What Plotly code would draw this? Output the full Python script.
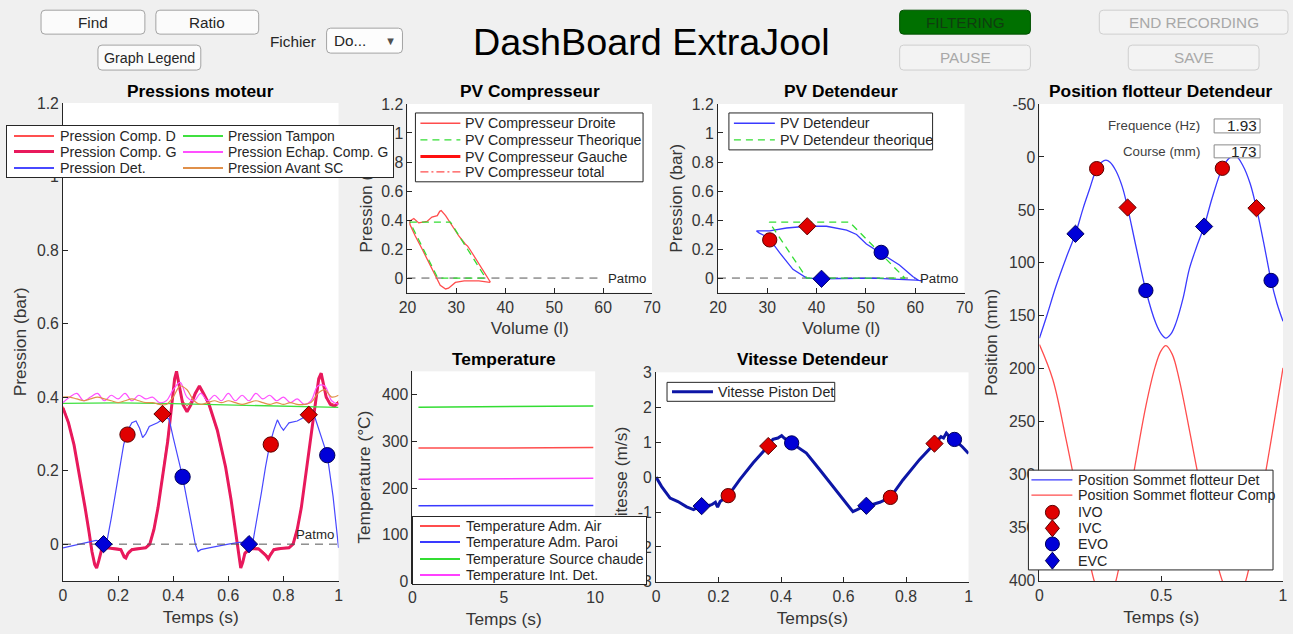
import plotly.graph_objects as go

FONT = "Liberation Sans, Arial, Helvetica, sans-serif"
# Observed: the page is shown with an 8px body margin and the captured area is
# then fitted to 1293x634.  Positions below are given in picture pixels and are
# converted to figure pixels with that mapping.
M = 8
SX, SY = 1293 / 1309, 634 / 650
W, H = 1301, 634
FS = 1.02  # font scale compensation

# ======================= DATA =======================
# --- Pressions moteur (bar) vs Temps (s)
T_COMP = [0.0, 0.02, 0.04, 0.06, 0.08, 0.095, 0.105, 0.115, 0.122, 0.13,
          0.14, 0.16, 0.19, 0.21, 0.222, 0.228, 0.236, 0.25, 0.28, 0.30,
          0.315, 0.33, 0.345, 0.36, 0.38, 0.395, 0.405, 0.412, 0.42, 0.435,
          0.45, 0.465, 0.48, 0.495, 0.51, 0.53, 0.56, 0.59, 0.61, 0.625,
          0.637, 0.645, 0.652, 0.66, 0.68, 0.71, 0.735, 0.745, 0.752, 0.765,
          0.79, 0.82, 0.835, 0.85, 0.865, 0.88, 0.90, 0.915, 0.928, 0.937,
          0.945, 0.955, 0.97, 0.985, 1.0]
P_COMP_G = [0.37, 0.33, 0.27, 0.19, 0.10, 0.03, -0.02, -0.055, -0.065, -0.045,
            -0.015, -0.01, -0.012, -0.015, -0.035, -0.038, -0.025, -0.015, -0.012, -0.01,
            0.0, 0.04, 0.10, 0.18, 0.28, 0.38, 0.45, 0.47, 0.44, 0.38,
            0.36, 0.38, 0.41, 0.43, 0.41, 0.38, 0.31, 0.21, 0.12, 0.04,
            -0.03, -0.065, -0.05, -0.025, -0.012, -0.013, -0.03, -0.04, -0.03, -0.015,
            -0.012, -0.01, 0.0, 0.04, 0.10, 0.18, 0.29, 0.38, 0.45, 0.465,
            0.44, 0.40, 0.38, 0.375, 0.385]
P_COMP_D = [0.375, 0.335, 0.275, 0.195, 0.105, 0.035, -0.015, -0.05, -0.06, -0.04,
            -0.012, -0.008, -0.01, -0.012, -0.028, -0.032, -0.02, -0.012, -0.01, -0.008,
            0.005, 0.045, 0.105, 0.185, 0.285, 0.375, 0.44, 0.455, 0.43, 0.39,
            0.375, 0.39, 0.415, 0.425, 0.405, 0.375, 0.305, 0.205, 0.115, 0.035,
            -0.025, -0.06, -0.045, -0.02, -0.01, -0.01, -0.025, -0.033, -0.025, -0.012,
            -0.01, -0.008, 0.005, 0.045, 0.105, 0.185, 0.295, 0.375, 0.44, 0.455,
            0.43, 0.395, 0.385, 0.38, 0.39]
T_DET = [0.0, 0.03, 0.06, 0.09, 0.12, 0.147, 0.16, 0.175, 0.19, 0.205,
         0.22, 0.235, 0.25, 0.265, 0.278, 0.289, 0.30, 0.313, 0.343, 0.373,
         0.385, 0.40, 0.415, 0.434, 0.45, 0.465, 0.48, 0.49, 0.50, 0.53,
         0.56, 0.60, 0.64, 0.675, 0.69, 0.705, 0.72, 0.735, 0.75, 0.765,
         0.778, 0.79, 0.80, 0.81, 0.82, 0.85, 0.892, 0.914, 0.937, 0.959,
         0.98, 1.0]
P_DET = [-0.01, -0.005, 0.0, 0.005, 0.01, 0.005, 0.01, 0.07, 0.14, 0.21,
         0.27, 0.31, 0.33, 0.335, 0.315, 0.29, 0.30, 0.32, 0.33, 0.345,
         0.34, 0.29, 0.24, 0.183, 0.12, 0.06, 0.0, -0.02, -0.015, -0.01,
         -0.005, 0.0, 0.005, 0.005, 0.01, 0.07, 0.14, 0.21, 0.27, 0.31,
         0.338, 0.32, 0.31, 0.32, 0.33, 0.335, 0.352, 0.345, 0.29, 0.242,
         0.13, -0.01]
T_TAMPON = [0.0, 0.2, 0.4, 0.6, 0.8, 1.0]
P_TAMPON = [0.383, 0.384, 0.382, 0.379, 0.376, 0.372]
T_GRID = [0.0, 0.025, 0.05, 0.075, 0.1, 0.125, 0.15, 0.175, 0.2, 0.225,
          0.25, 0.275, 0.3, 0.325, 0.35, 0.375, 0.4, 0.425, 0.45, 0.475,
          0.5, 0.525, 0.55, 0.575, 0.6, 0.625, 0.65, 0.675, 0.7, 0.725,
          0.75, 0.775, 0.8, 0.825, 0.85, 0.875, 0.9, 0.925, 0.95, 0.975, 1.0]
P_ECHAP = [0.385, 0.40, 0.41, 0.39, 0.40, 0.41, 0.39, 0.405, 0.395, 0.41,
           0.39, 0.405, 0.395, 0.40, 0.385, 0.39, 0.42, 0.44, 0.40, 0.39,
           0.41, 0.39, 0.405, 0.39, 0.41, 0.39, 0.405, 0.39, 0.41, 0.395,
           0.405, 0.39, 0.40, 0.385, 0.395, 0.38, 0.39, 0.43, 0.43, 0.39, 0.38]
P_AVANT_SC = [0.40, 0.40, 0.395, 0.39, 0.395, 0.40, 0.395, 0.39, 0.385, 0.39,
              0.395, 0.39, 0.385, 0.385, 0.38, 0.38, 0.40, 0.43, 0.42, 0.39,
              0.38, 0.385, 0.39, 0.385, 0.39, 0.385, 0.38, 0.385, 0.39, 0.385,
              0.38, 0.385, 0.38, 0.385, 0.38, 0.38, 0.385, 0.41, 0.42, 0.40, 0.405]
PATMO_T = [0.0, 1.0]
PATMO_P = [0.0, 0.0]
# events on pressure plot
IVO_T, IVO_P = [0.234, 0.754], [0.298, 0.271]
IVC_T, IVC_P = [0.361, 0.892], [0.354, 0.352]
EVO_T, EVO_P = [0.434, 0.959], [0.183, 0.242]
EVC_T, EVC_P = [0.147, 0.675], [0.0, 0.0]

# --- PV Compresseur
V_COMP_D = [20.5, 21.3, 22.3, 24.0, 25.0, 26.1, 26.6, 26.9, 27.8, 28.8,
            30.5, 31.8, 32.3, 32.9, 34.6, 36.3, 36.9, 36.8, 34.6, 31.6,
            29.8, 28.4, 27.8, 26.7, 25.7, 24.7, 23.0, 21.6, 20.5, 20.5]
PV_COMP_D = [0.393, 0.41, 0.38, 0.39, 0.42, 0.43, 0.46, 0.465, 0.43, 0.38,
             0.29, 0.235, 0.22, 0.19, 0.10, 0.005, -0.025, -0.03, -0.02, -0.02,
             -0.03, -0.07, -0.075, -0.05, 0.02, 0.087, 0.20, 0.29, 0.37, 0.393]
V_COMP_TH = [20.5, 28.8, 36.0, 26.2, 20.5]
PV_COMP_TH = [0.385, 0.385, 0.0, 0.0, 0.385]
PATMO_V = [20.0, 60.0]

# --- PV Detendeur
V_DET = [27.8, 30.5, 33.9, 38.0, 42.0, 46.1, 48.1, 50.1, 53.1, 56.8,
         59.5, 60.9, 61.5, 60.2, 55.5, 51.5, 45.0, 41.0, 38.0, 35.2,
         32.5, 30.9, 30.2, 28.4, 27.8]
PV_DET = [0.325, 0.325, 0.345, 0.357, 0.357, 0.33, 0.30, 0.235, 0.17, 0.09,
          0.01, -0.02, -0.02, -0.015, -0.008, 0.0, -0.003, -0.005, 0.0, 0.06,
          0.175, 0.245, 0.28, 0.31, 0.325]
V_DET_TH = [30.4, 46.7, 57.9, 38.0, 30.4]
PV_DET_TH = [0.385, 0.385, 0.0, 0.0, 0.385]
PV_IVO_V, PV_IVO_P = [30.5], [0.263]
PV_IVC_V, PV_IVC_P = [38.1], [0.357]
PV_EVO_V, PV_EVO_P = [53.1], [0.177]
PV_EVC_V, PV_EVC_P = [41.0], [-0.005]

# --- Temperature (°C) vs Temps (s)
T_TEMP = [0.33, 2.5, 5.0, 7.5, 9.9]
TEMP_AIR = [286, 285.5, 286, 286.5, 287]
TEMP_PAROI = [162, 162, 162.5, 163, 163]
TEMP_SOURCE = [373, 374, 375, 375.5, 376]
TEMP_INT_DET = [219, 219.5, 220, 220.5, 221]

# --- Vitesse Detendeur (m/s)
T_VIT = [0.0, 0.018, 0.045, 0.07, 0.098, 0.12, 0.13, 0.146, 0.165, 0.178,
         0.19, 0.197, 0.205, 0.231, 0.268, 0.311, 0.359, 0.374, 0.39, 0.402,
         0.41, 0.434, 0.481, 0.524, 0.566, 0.598, 0.63, 0.65, 0.673, 0.716,
         0.75, 0.79, 0.843, 0.891, 0.912, 0.92, 0.929, 0.94, 0.955, 0.98, 1.0]
VIT = [0.0, -0.27, -0.6, -0.7, -0.85, -0.93, -0.88, -0.84, -0.82, -0.79,
       -0.72, -0.86, -0.7, -0.53, -0.07, 0.41, 0.89, 1.08, 1.12, 1.19,
       1.12, 0.98, 0.69, 0.21, -0.27, -0.65, -0.99, -0.9, -0.84, -0.72,
       -0.58, -0.08, 0.5, 0.96, 1.16, 1.12, 1.26, 1.15, 1.07, 0.87, 0.68]
V_IVO_T, V_IVO = [0.231, 0.75], [-0.53, -0.58]
V_IVC_T, V_IVC = [0.359, 0.891], [0.89, 0.96]
V_EVO_T, V_EVO = [0.434, 0.955], [0.98, 1.08]
V_EVC_T, V_EVC = [0.146, 0.673], [-0.83, -0.82]

# --- Position flotteur Detendeur (mm)
T_POS_DET = [0.0, 0.03, 0.068, 0.11, 0.148, 0.18, 0.205, 0.235, 0.255, 0.273,
             0.29, 0.314, 0.34, 0.362, 0.396, 0.437, 0.478, 0.50, 0.519, 0.54,
             0.56, 0.59, 0.615, 0.645, 0.676, 0.71, 0.751, 0.78, 0.806, 0.835,
             0.865, 0.891, 0.92, 0.951, 0.975, 1.0]
POS_DET = [171, 150, 122, 95, 72.5, 48, 31, 11, 5, 3,
           5, 13, 28, 47.7, 84, 126, 157, 167, 171, 167,
           157, 133, 106, 85, 65.6, 38, 10.7, 1, -1, 8,
           25, 48.3, 80, 116.5, 138, 155]
T_POS_COMP = [0.0, 0.055, 0.109, 0.164, 0.225, 0.27, 0.314, 0.383, 0.437, 0.475,
              0.499, 0.519, 0.545, 0.574, 0.649, 0.70, 0.751, 0.80, 0.847, 0.929, 1.0]
POS_COMP = [177, 210, 266, 329, 400, 425, 400, 304, 235, 198,
            183, 178, 186, 210, 297.5, 355, 400, 425, 400, 297, 199]
P_IVO_T, P_IVO = [0.235, 0.751], [11, 10.7]
P_IVC_T, P_IVC = [0.362, 0.891], [47.7, 48.3]
P_EVO_T, P_EVO = [0.437, 0.951], [126, 116.5]
P_EVC_T, P_EVC = [0.148, 0.676], [72.5, 65.6]
FREQ_HZ = "1.93"
COURSE_MM = "173"

# ======================= STYLE =======================
C_D, C_G, C_DET = '#ff5050', '#e8195c', '#4848ff'
C_TAMP, C_ECH, C_ASC = '#40e040', '#ff50ff', '#e0904a'
C_RED_L, C_BLUE_L, C_GREEN_L = '#ff4d4d', '#3a3aff', '#33dd33'
C_VIT = '#0d16a6'
RED_M, RED_E = '#e00000', '#5a0000'
BLUE_M, BLUE_E = '#0000d8', '#00005a'
AXC, TXC = '#262626', '#363636'
DASH_TH = '7px,5px'
DASH_ATM = '8px,6px'


def ux(x):
    return x / SX - M


def uy(y):
    return y / SY - M


def fx(x):
    return ux(x) / W


def fy(y):
    return 1 - uy(y) / H


def fs(size):
    return round(size * FS, 2)


shapes, annotations = [], []
fig = go.Figure()


def add_line(x, y, k, color, width=1.2, dash='solid', shape='linear'):
    fig.add_trace(go.Scatter(x=x, y=y, mode='lines', xaxis='x' + k, yaxis='y' + k,
                             line=dict(color=color, width=width, dash=dash, shape=shape),
                             hoverinfo='skip', showlegend=False))


def add_markers(x, y, k, symbol, fill, edge, size):
    fig.add_trace(go.Scatter(x=x, y=y, mode='markers', xaxis='x' + k, yaxis='y' + k,
                             marker=dict(symbol=symbol, color=fill, size=fs(size),
                                         line=dict(color=edge, width=1)),
                             hoverinfo='skip', showlegend=False, cliponaxis=False))


def events(k, ivo, ivc, evo, evc, cs=15, ds=13):
    add_markers(ivo[0], ivo[1], k, 'circle', RED_M, RED_E, cs)
    add_markers(ivc[0], ivc[1], k, 'diamond', RED_M, RED_E, ds)
    add_markers(evo[0], evo[1], k, 'circle', BLUE_M, BLUE_E, cs)
    add_markers(evc[0], evc[1], k, 'diamond', BLUE_M, BLUE_E, ds)


# ---- Panel 1: Pressions moteur
add_line(T_COMP, P_COMP_D, '', C_D, 1)
add_line(T_COMP, P_COMP_G, '', C_G, 3)
add_line(T_DET, P_DET, '', C_DET, 1.2)
add_line(T_TAMPON, P_TAMPON, '', C_TAMP, 1.3)
add_line(T_GRID, P_ECHAP, '', C_ECH, 1.2, shape='spline')
add_line(T_GRID, P_AVANT_SC, '', C_ASC, 1.2, shape='spline')
add_line(PATMO_T, PATMO_P, '', '#555555', 1, dash=DASH_ATM)
events('', (IVO_T, IVO_P), (IVC_T, IVC_P), (EVO_T, EVO_P), (EVC_T, EVC_P))

# ---- Panel 2: PV Compresseur
add_line(PATMO_V, PATMO_P, '2', '#555555', 1, dash=DASH_ATM)
add_line(V_COMP_D, PV_COMP_D, '2', C_RED_L, 1.3)
add_line(V_COMP_TH, PV_COMP_TH, '2', C_GREEN_L, 1.3, dash=DASH_TH)

# ---- Panel 3: PV Detendeur
add_line(PATMO_V, PATMO_P, '3', '#555555', 1, dash=DASH_ATM)
add_line(V_DET, PV_DET, '3', C_BLUE_L, 1.3)
add_line(V_DET_TH, PV_DET_TH, '3', C_GREEN_L, 1.3, dash=DASH_TH)
events('3', (PV_IVO_V, PV_IVO_P), (PV_IVC_V, PV_IVC_P), (PV_EVO_V, PV_EVO_P),
       (PV_EVC_V, PV_EVC_P), 14, 13)

# ---- Panel 4: Temperature
add_line(T_TEMP, TEMP_AIR, '4', C_RED_L, 1.5)
add_line(T_TEMP, TEMP_PAROI, '4', C_BLUE_L, 1.5)
add_line(T_TEMP, TEMP_SOURCE, '4', C_GREEN_L, 1.5)
add_line(T_TEMP, TEMP_INT_DET, '4', '#ff40ff', 1.5)

# ---- Panel 5: Vitesse
add_line(T_VIT, VIT, '5', C_VIT, 3)
events('5', (V_IVO_T, V_IVO), (V_IVC_T, V_IVC), (V_EVO_T, V_EVO), (V_EVC_T, V_EVC), 14, 13)

# ---- Panel 6: Position
add_line(T_POS_COMP, POS_COMP, '6', C_RED_L, 1.3, shape='spline')
add_line(T_POS_DET, POS_DET, '6', C_BLUE_L, 1.3, shape='spline')
events('6', (P_IVO_T, P_IVO), (P_IVC_T, P_IVC), (P_EVO_T, P_EVO), (P_EVC_T, P_EVC), 14, 13)

# ======================= AXES =======================
COMMON = dict(showline=True, linecolor=AXC, linewidth=1, ticks='inside', ticklen=5,
              tickcolor=AXC, tickwidth=1, showgrid=False, zeroline=False, fixedrange=True,
              tickfont=dict(family=FONT, size=fs(15.5), color=TXC), tickmode='array')


def xax(x0, x1, anchor, rng, tv, tt, title, standoff=7):
    return dict(domain=[fx(x0), fx(x1)], anchor=anchor, range=rng, tickvals=tv, ticktext=tt,
                title=dict(text=title, font=dict(family=FONT, size=fs(17), color=TXC),
                           standoff=standoff), **COMMON)


def yax(y0, y1, anchor, rng, tv, tt, title, standoff=4):
    return dict(domain=[fy(y1), fy(y0)], anchor=anchor, range=rng, tickvals=tv, ticktext=tt,
                title=dict(text=title, font=dict(family=FONT, size=fs(17), color=TXC),
                           standoff=standoff), **COMMON)


T01 = [0, 0.2, 0.4, 0.6, 0.8, 1]
T01_TXT = ['0', '0.2', '0.4', '0.6', '0.8', '1']
P_TV = [0, 0.2, 0.4, 0.6, 0.8, 1, 1.2]
P_TT = ['0', '0.2', '0.4', '0.6', '0.8', '1', '1.2']
V_TV = [20, 30, 40, 50, 60, 70]
V_TT = [str(v) for v in V_TV]

layout_axes = dict(
    xaxis=xax(62, 338, 'y', [0, 1], T01, T01_TXT, 'Temps (s)'),
    yaxis=yax(103, 582, 'x', [-0.1, 1.2], P_TV, P_TT, 'Pression (bar)', 5),
    xaxis2=xax(407, 652, 'y2', [20, 70], V_TV, V_TT, 'Volume (l)'),
    yaxis2=yax(104, 293, 'x2', [-0.1, 1.2], P_TV, P_TT, 'Pression (bar)', 4),
    xaxis3=xax(718, 965, 'y3', [20, 70], V_TV, V_TT, 'Volume (l)'),
    yaxis3=yax(104, 293, 'x3', [-0.1, 1.2], P_TV, P_TT, 'Pression (bar)', 4),
    xaxis4=xax(412, 595, 'y4', [0, 10], [0, 5, 10], ['0', '5', '10'], 'Temps (s)'),
    yaxis4=yax(372, 584, 'x4', [-3, 450], [0, 100, 200, 300, 400],
               ['0', '100', '200', '300', '400'], 'Temperature (°C)', 6),
    xaxis5=xax(656, 969, 'y5', [0, 1], T01, T01_TXT, 'Temps(s)'),
    yaxis5=yax(373, 583, 'x5', [-3, 3], [-3, -2, -1, 0, 1, 2, 3],
               ['-3', '-2', '-1', '0', '1', '2', '3'], 'Vitesse (m/s)', 5),
    xaxis6=xax(1040, 1284, 'y6', [0, 1], [0, 0.5, 1], ['0', '0.5', '1'], 'Temps (s)'),
    yaxis6=yax(104, 582, 'x6', [400, -50], [-50, 0, 50, 100, 150, 200, 250, 300, 350, 400],
               ['-50', '0', '50', '100', '150', '200', '250', '300', '350', '400'],
               'Position (mm)', 6),
)

# ======================= DECORATION HELPERS =======================


def label(x, y, s, size=14, color=AXC, xanchor='center', yanchor='middle'):
    annotations.append(dict(xref='paper', yref='paper', x=fx(x), y=fy(y), text=s,
                            showarrow=False, xanchor=xanchor, yanchor=yanchor,
                            font=dict(family=FONT, size=fs(size), color=color)))


def rrect(x0, y0, x1, y1, fill, line, r=4, lw=1):
    p = (f"M{fx(x0 + r)},{fy(y0)} L{fx(x1 - r)},{fy(y0)} Q{fx(x1)},{fy(y0)} {fx(x1)},{fy(y0 + r)} "
         f"L{fx(x1)},{fy(y1 - r)} Q{fx(x1)},{fy(y1)} {fx(x1 - r)},{fy(y1)} "
         f"L{fx(x0 + r)},{fy(y1)} Q{fx(x0)},{fy(y1)} {fx(x0)},{fy(y1 - r)} "
         f"L{fx(x0)},{fy(y0 + r)} Q{fx(x0)},{fy(y0)} {fx(x0 + r)},{fy(y0)} Z")
    shapes.append(dict(type='path', xref='paper', yref='paper', path=p, fillcolor=fill,
                       line=dict(color=line, width=lw), layer='above'))


def srect(x0, y0, x1, y1, fill='white', line=AXC):
    shapes.append(dict(type='rect', xref='paper', yref='paper', x0=fx(x0), x1=fx(x1),
                       y0=fy(y1), y1=fy(y0), fillcolor=fill, line=dict(color=line, width=1),
                       layer='above'))


def sline(x0, x1, y, color, width, dash='solid'):
    shapes.append(dict(type='line', xref='paper', yref='paper', x0=fx(x0), x1=fx(x1),
                       y0=fy(y), y1=fy(y), line=dict(color=color, width=width, dash=dash),
                       layer='above'))


def scircle(cx, cy, d, fill, edge):
    shapes.append(dict(type='circle', xref='paper', yref='paper', x0=fx(cx - d / 2),
                       x1=fx(cx + d / 2), y0=fy(cy + d / 2), y1=fy(cy - d / 2),
                       fillcolor=fill, line=dict(color=edge, width=1), layer='above'))


def sdiamond(cx, cy, w, h, fill, edge):
    p = (f"M{fx(cx - w / 2)},{fy(cy)} L{fx(cx)},{fy(cy - h / 2)} "
         f"L{fx(cx + w / 2)},{fy(cy)} L{fx(cx)},{fy(cy + h / 2)} Z")
    shapes.append(dict(type='path', xref='paper', yref='paper', path=p, fillcolor=fill,
                       line=dict(color=edge, width=1), layer='above'))


def abox(x0, y0, x1, y1):
    annotations.append(dict(xref='paper', yref='paper', x=fx((x0 + x1) / 2), y=fy((y0 + y1) / 2),
                            text=' ', showarrow=False, xanchor='center', yanchor='middle',
                            width=(x1 - x0) / SX - 2, height=(y1 - y0) / SY - 2, bgcolor='white',
                            bordercolor=AXC, borderwidth=1, borderpad=0,
                            font=dict(size=2, color='white')))


def abar(x0, x1, y, color, lw):
    annotations.append(dict(xref='paper', yref='paper', x=fx((x0 + x1) / 2), y=fy(y),
                            text=' ', showarrow=False, xanchor='center', yanchor='middle',
                            width=(x1 - x0) / SX, height=max(lw, 1), bgcolor=color, borderwidth=0,
                            borderpad=0, font=dict(size=1, color=color)))


# ======================= TOP BAR =======================
BTN_FILL, BTN_LINE = '#fbfbfb', '#a3a3a3'
DIS_FILL, DIS_LINE, DIS_TXT = '#f3f3f3', '#cfcfcf', '#a8a8a8'
rrect(40, 10, 144, 34, BTN_FILL, BTN_LINE)
label(92, 22.5, 'Find', 15)
rrect(155, 10, 258, 34, BTN_FILL, BTN_LINE)
label(206.5, 22.5, 'Ratio', 15)
rrect(97, 45, 200, 70, BTN_FILL, BTN_LINE)
label(148.5, 57.5, 'Graph Legend', 14)
label(292.5, 41, 'Fichier', 15)
rrect(326, 28, 402, 53, '#fdfdfd', BTN_LINE)
label(331, 40.5, 'Do...', 15, xanchor='left')
label(390, 40.5, '▼', 11, color='#505050')
label(651, 42, 'DashBoard ExtraJool', 37, color='#000000')
rrect(900, 10, 1031, 34, '#007000', '#005000')
label(965.5, 22.5, 'FILTERING', 15, color='#0f3d0f')
rrect(900, 45, 1031, 70, DIS_FILL, DIS_LINE)
label(965.5, 57.5, 'PAUSE', 15, color=DIS_TXT)
rrect(1100, 10, 1289, 34, DIS_FILL, DIS_LINE)
label(1194.5, 22.5, 'END RECORDING', 15, color=DIS_TXT)
rrect(1129, 45, 1260, 70, DIS_FILL, DIS_LINE)
label(1194.5, 57.5, 'SAVE', 15, color=DIS_TXT)

# ======================= SUBPLOT TITLES =======================
label(200, 91, '<b>Pressions moteur</b>', 17, '#000000')
label(529.5, 91, '<b>PV Compresseur</b>', 17, '#000000')
label(841.5, 91, '<b>PV Detendeur</b>', 17, '#000000')
label(1162, 91, '<b>Position flotteur Detendeur</b>', 17, '#000000')
label(503.5, 360, '<b>Temperature</b>', 17, '#000000')
label(812.5, 360, '<b>Vitesse Detendeur</b>', 17, '#000000')

# Patmo labels (data coordinates)
annotations.append(dict(xref='x', yref='y', x=0.99, y=0.0, text='Patmo', showarrow=False,
                        xanchor='right', yanchor='bottom',
                        font=dict(family=FONT, size=fs(13), color=AXC)))
for k in ('2', '3'):
    annotations.append(dict(xref='x' + k, yref='y' + k, x=60.6, y=0.0, text='Patmo', showarrow=False,
                            xanchor='left', yanchor='middle',
                            font=dict(family=FONT, size=fs(13), color=AXC)))

# ======================= LEGENDS =======================
# Pressions moteur legend (drawn as annotations so that it hides the neighbour axis title)
abox(8, 126, 391, 178)
for (name, col, lw), yy in zip([('Pression Comp. D', C_D, 1.5), ('Pression Comp. G', C_G, 3),
                                 ('Pression Det.', C_DET, 1.5)], [135.7, 151.7, 168.3]):
    abar(13, 53, yy, col, lw)
    label(57, yy, name, 14, xanchor='left')
for (name, col, lw), yy in zip([('Pression Tampon', C_TAMP, 1.5), ('Pression Echap. Comp. G', C_ECH, 1.5),
                                 ('Pression Avant SC', C_ASC, 2)], [135.7, 151.7, 168.3]):
    abar(182, 222, yy, col, lw)
    label(225, yy, name, 13.6, xanchor='left')

# Temperature legend (annotations: hides part of the Vitesse axis)
abox(413, 518, 645, 585)
for (name, col), yy in zip([('Temperature Adm. Air', C_RED_L), ('Temperature Adm. Paroi', C_BLUE_L),
                            ('Temperature Source chaude', C_GREEN_L), ('Temperature Int. Det.', '#ff40ff')],
                           [527.3, 543.3, 560, 576]):
    abar(420, 460, yy, col, 2)
    label(464, yy, name, 13.8, xanchor='left')

# PV Compresseur legend
srect(415, 113, 643, 182)
for (name, col, lw, dash), yy in zip([('PV Compresseur Droite', C_RED_L, 1.3, 'solid'),
                                       ('PV Compresseur Theorique', C_GREEN_L, 1.3, DASH_TH),
                                       ('PV Compresseur Gauche', '#ff1010', 3, 'solid'),
                                       ('PV Compresseur total', C_RED_L, 1.3, '8px,3px,2px,3px')],
                                      [123.3, 140, 156.7, 172]):
    sline(420, 460, yy, col, lw, dash)
    label(463, yy, name, 14, xanchor='left')

# PV Detendeur legend
srect(729, 113, 933, 150)
for (name, col, dash), yy in zip([('PV Detendeur', C_BLUE_L, 'solid'),
                                  ('PV Detendeur theorique', C_GREEN_L, DASH_TH)], [123.3, 140]):
    sline(734, 775, yy, col, 1.3, dash)
    label(778, yy, name, 14, xanchor='left')

# Vitesse legend
srect(667, 383, 835, 402)
sline(672, 713, 392.3, C_VIT, 3)
label(716, 392.3, 'Vitesse Piston Det', 14, xanchor='left')

# Position legend
srect(1029, 471, 1274, 571)
sline(1032, 1073, 480.7, C_BLUE_L, 1.3)
label(1077, 480.7, 'Position Sommet flotteur Det', 14, xanchor='left')
sline(1032, 1073, 496, C_RED_L, 1.3)
label(1077, 496, 'Position Sommet flotteur Comp', 14, xanchor='left')
scircle(1053, 513.3, 14, RED_M, RED_E)
label(1077, 513.3, 'IVO', 14, xanchor='left')
sdiamond(1053, 529.3, 14, 17, RED_M, RED_E)
label(1077, 529.3, 'IVC', 14, xanchor='left')
scircle(1053, 545, 14, BLUE_M, BLUE_E)
label(1077, 545, 'EVO', 14, xanchor='left')
sdiamond(1053, 561.7, 14, 17, BLUE_M, BLUE_E)
label(1077, 561.7, 'EVC', 14, xanchor='left')

# Frequence / Course fields
label(1203, 126, 'Frequence (Hz)', 13, '#404040', xanchor='right')
srect(1215, 119, 1261, 133, 'white', '#8a8a8a')
label(1260, 126, FREQ_HZ, 15, AXC, xanchor='right')
label(1203, 152, 'Course (mm)', 13, '#404040', xanchor='right')
srect(1215, 145, 1261, 158, 'white', '#8a8a8a')
label(1260, 151.5, COURSE_MM, 15, AXC, xanchor='right')

fig.update_layout(width=W, height=H, autosize=False,
                  margin=dict(l=0, r=0, t=0, b=0, pad=0),
                  paper_bgcolor='#f0f0f0', plot_bgcolor='white', showlegend=False,
                  font=dict(family=FONT, color=AXC), hovermode=False,
                  shapes=shapes, annotations=annotations, **layout_axes)

fig.write_html("out.html", config={'displayModeBar': False})
